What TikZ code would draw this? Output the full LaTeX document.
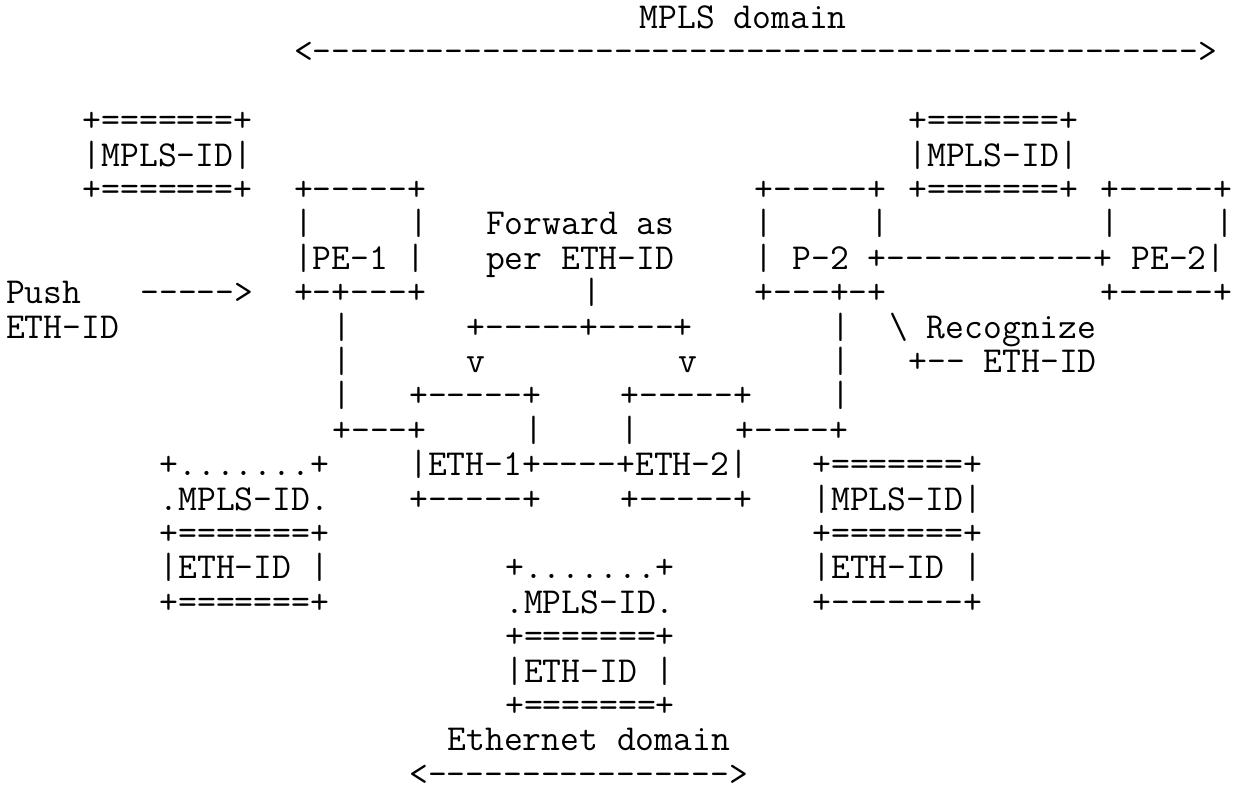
\documentclass[tikz,border=0pt]{standalone}
\tikzset{ascii/.style={font=\fontsize{36.57}{40}\selectfont\ttfamily, inner sep=0pt, outer sep=0pt, anchor=base west}}
\newcommand{\dashrun}[1]{\foreach \k in {1,...,#1}{-}}

\begin{document}
\begin{tikzpicture}[x=19.2pt, y=-34.4pt]
  \useasboundingbox (-6pt,28.5pt) rectangle (1233pt,-765.5pt);
  \node[ascii] (mplsdom) at (33,0) {MPLS domain};
  \node[ascii] (mplsarrow) at (15,1) {<\dashrun{47}>};
  % MPLS-ID labels on top
  \node[ascii] (idltop) at (4,3) {+=======+};
  \node[ascii] (idlmid) at (4,4) {|MPLS-ID|};
  \node[ascii] (idlbot) at (4,5) {+=======+};
  \node[ascii] (idrtop) at (47,3) {+=======+};
  \node[ascii] (idrmid) at (47,4) {|MPLS-ID|};
  \node[ascii] (idrbot) at (47,5) {+=======+};
  % routers
  \node[ascii] (pe1top) at (15,5) {+-----+};
  \node[ascii] (pe1l) at (15,6) {|};
  \node[ascii] (pe1r) at (21,6) {|};
  \node[ascii] (pe1) at (15,7) {|PE-1 |};
  \node[ascii] (pe1bot) at (15,8) {+-+---+};
  \node[ascii] (p2top) at (39,5) {+-----+};
  \node[ascii] (p2l) at (39,6) {|};
  \node[ascii] (p2r) at (45,6) {|};
  \node[ascii] (p2) at (39,7) {| P-2 +-----------+ PE-2|};
  \node[ascii] (p2bot) at (39,8) {+---+-+};
  \node[ascii] (pe2top) at (57,5) {+-----+};
  \node[ascii] (pe2l) at (57,6) {|};
  \node[ascii] (pe2r) at (63,6) {|};
  \node[ascii] (pe2bot) at (57,8) {+-----+};
  % push / forward
  \node[ascii] (push) at (0,8) {Push};
  \node[ascii] (pusharrow) at (7,8) {----->};
  \node[ascii] (pushid) at (0,9) {ETH-ID};
  \node[ascii] (fwd) at (25,6) {Forward as};
  \node[ascii] (fwdid) at (25,7) {per ETH-ID};
  \node[ascii] (fwdline) at (30,8) {|};
  \node[ascii] (fork) at (24,9) {+-----+----+};
  \node[ascii] (vleft) at (24,10) {v};
  \node[ascii] (vright) at (35,10) {v};
  % recognize
  \node[ascii] (recog) at (46,9) {\textbackslash{} Recognize};
  \node[ascii] (recogid) at (47,10) {+-- ETH-ID};
  % links down
  \node[ascii] (pe1down1) at (17,9) {|};
  \node[ascii] (pe1down2) at (17,10) {|};
  \node[ascii] (pe1down3) at (17,11) {|};
  \node[ascii] (pe1link) at (17,12) {+---+};
  \node[ascii] (p2down1) at (43,9) {|};
  \node[ascii] (p2down2) at (43,10) {|};
  \node[ascii] (p2down3) at (43,11) {|};
  \node[ascii] (p2link) at (38,12) {+----+};
  % ethernet switches
  \node[ascii] (eth1top) at (21,11) {+-----+};
  \node[ascii] (eth2top) at (32,11) {+-----+};
  \node[ascii] (eth1r) at (27,12) {|};
  \node[ascii] (eth2l) at (32,12) {|};
  \node[ascii] (eth) at (21,13) {|ETH-1+----+ETH-2|};
  \node[ascii] (eth1bot) at (21,14) {+-----+};
  \node[ascii] (eth2bot) at (32,14) {+-----+};
  % label stacks
  \node[ascii] (stl1) at (8,13) {+.......+};
  \node[ascii] (stl2) at (8,14) {.MPLS-ID.};
  \node[ascii] (stl3) at (8,15) {+=======+};
  \node[ascii] (stl4) at (8,16) {|ETH-ID |};
  \node[ascii] (stl5) at (8,17) {+=======+};
  \node[ascii] (str1) at (42,13) {+=======+};
  \node[ascii] (str2) at (42,14) {|MPLS-ID|};
  \node[ascii] (str3) at (42,15) {+=======+};
  \node[ascii] (str4) at (42,16) {|ETH-ID |};
  \node[ascii] (str5) at (42,17) {+-------+};
  \node[ascii] (stc1) at (26,16) {+.......+};
  \node[ascii] (stc2) at (26,17) {.MPLS-ID.};
  \node[ascii] (stc3) at (26,18) {+=======+};
  \node[ascii] (stc4) at (26,19) {|ETH-ID |};
  \node[ascii] (stc5) at (26,20) {+=======+};
  \node[ascii] (ethdom) at (23,21) {Ethernet domain};
  \node[ascii] (etharrow) at (21,22) {<\dashrun{16}>};
\end{tikzpicture}
\end{document}
